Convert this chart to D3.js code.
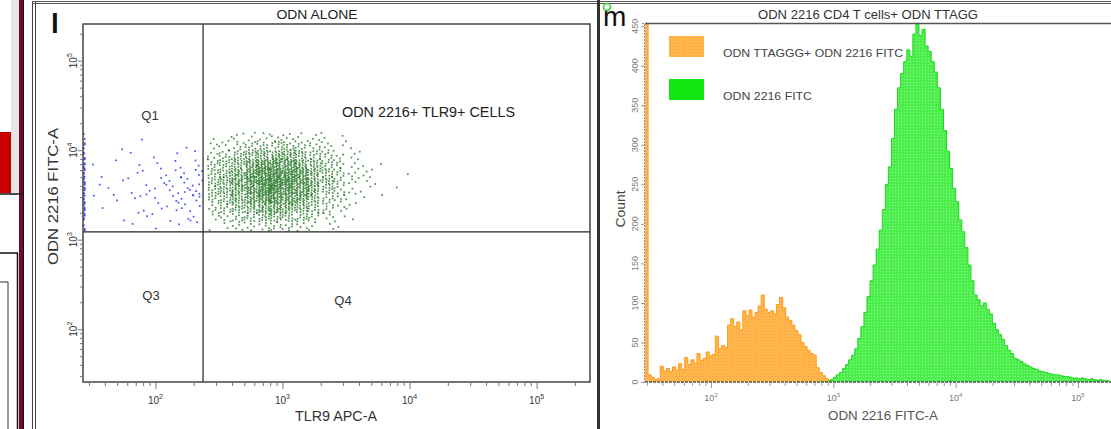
<!DOCTYPE html>
<html>
<head>
<meta charset="utf-8">
<script src="https://cdn.jsdelivr.net/npm/d3@7"></script>
<style>
html, body { margin: 0; padding: 0; background: #fff; }
svg { display: block; font-family: "Liberation Sans", Arial, sans-serif; }
</style>
</head>
<body>
<div id="fig"></div>
<script>
// ---- panel l : dot plot, counts per cell of 0.1 x 0.1 decade
var scatterGreenColStart = 2.4;   // log10 TLR9 APC-A, first column
var scatterBlueColStart = 1.47;
var scatterRowStart = 3.1;        // log10 ODN 2216 FITC-A, bottom row
// rows bottom -> top, columns left -> right
var scatterGreen = [
    [1, 2, 4, 5, 6, 7, 6, 5, 3, 2, 1, 0, 0, 0, 0, 0],
    [3, 5, 8, 11, 13, 14, 13, 10, 7, 4, 2, 1, 0, 0, 0, 0],
    [6, 9, 13, 18, 22, 23, 21, 16, 11, 7, 3, 2, 0, 0, 0, 0],
    [9, 12, 18, 25, 30, 32, 28, 22, 15, 9, 5, 2, 1, 1, 0, 0],
    [11, 15, 22, 30, 36, 38, 34, 27, 19, 12, 7, 3, 2, 0, 1, 0],
    [12, 16, 24, 32, 38, 42, 38, 30, 22, 14, 8, 4, 2, 1, 0, 0],
    [10, 14, 22, 30, 35, 38, 35, 28, 20, 13, 7, 4, 2, 1, 0, 1],
    [8, 12, 18, 24, 28, 30, 28, 22, 16, 10, 6, 3, 1, 1, 0, 0],
    [5, 8, 12, 15, 18, 20, 18, 15, 11, 7, 4, 2, 1, 0, 0, 0],
    [3, 4, 6, 8, 9, 10, 10, 8, 6, 4, 2, 1, 0, 0, 0, 0],
    [1, 2, 3, 3, 4, 4, 4, 3, 3, 2, 1, 0, 0, 0, 0, 0]
];
var scatterBlue = [
    [0, 0, 0, 1, 0, 1, 0, 1, 1],
    [0, 0, 1, 0, 1, 1, 1, 1, 2],
    [0, 1, 0, 1, 1, 1, 2, 2, 2],
    [1, 0, 1, 1, 1, 2, 2, 2, 3],
    [0, 1, 1, 1, 2, 1, 2, 3, 4],
    [1, 0, 1, 1, 1, 2, 2, 3, 3],
    [0, 1, 0, 1, 1, 1, 2, 2, 3],
    [1, 0, 1, 0, 1, 1, 1, 1, 2],
    [0, 0, 0, 1, 0, 1, 0, 1, 1],
    [0, 0, 1, 0, 0, 0, 0, 1, 0],
    [0, 0, 0, 0, 1, 0, 0, 0, 0]
];
// events piled on the left axis (off-scale low), per row
var scatterBlueAxis = [3, 4, 5, 5, 5, 5, 5, 4, 4, 3, 2];
var gateX = 237, gateY = 1220;
var decades = [100, 1000, 10000, 100000];

// ---- panel m : histograms, 0.025 decade bins
var binWidth = 0.025;
var histOrangeStart = 1.46;
var histOrange = [600, 9, 6, 3, 4, 20, 14, 17, 13, 19, 15, 23, 16, 31, 22, 28, 24, 36, 27, 30,
    38, 33, 35, 58, 42, 46, 44, 72, 80, 70, 76, 66, 90, 84, 91, 82, 88, 96, 110, 92,
    88, 90, 86, 98, 107, 94, 82, 78, 72, 65, 60, 50, 45, 40, 36, 34, 18, 12, 8, 4, 2, 0];
var histGreenStart = 2.9;
var histGreen = [0, 0, 1, 3, 6, 9, 12, 17, 22, 28, 34, 42, 55, 70, 88, 108, 128, 148, 168, 192,
    218, 250, 272, 308, 345, 372, 390, 405, 420, 412, 440, 455, 438, 446, 425, 418, 405, 392, 372, 345,
    318, 292, 270, 245, 228, 205, 190, 170, 148, 128, 110, 104, 96, 100, 92, 86, 74, 66, 60, 54,
    46, 40, 36, 30, 28, 26, 23, 21, 19, 17, 16, 14, 13, 12, 11, 10, 9, 9, 8, 7,
    7, 6, 5, 5, 4, 5, 4, 3, 4, 3, 2, 3, 2, 2, 1, 1];
var countTicks = [0, 50, 100, 150, 200, 250, 300, 350, 400, 450];
var legendLabels = ["ODN TTAGGG+ ODN 2216 FITC", "ODN 2216 FITC"];

var svg = d3.select("#fig").append("svg")
    .attr("width", 1111)
    .attr("height", 429);

var defs = svg.append("defs");
function dotPattern(id, base, dot) {
    var p = defs.append("pattern").attr("id", id)
        .attr("width", 3).attr("height", 3).attr("patternUnits", "userSpaceOnUse");
    p.append("rect").attr("width", 3).attr("height", 3).attr("fill", base);
    p.append("rect").attr("x", 1).attr("y", 1).attr("width", 1).attr("height", 1).attr("fill", dot);
}
dotPattern("patOrange", "#ffb845", "#ff9470");
dotPattern("patGreen", "#4cee4c", "#95f695");

// left neighbour strip of the figure
svg.append("rect").attr("x", 11).attr("y", 0).attr("width", 8).attr("height", 193).attr("fill", "#e6e6e6");
svg.append("rect").attr("x", 0).attr("y", 132).attr("width", 11).attr("height", 61).attr("fill", "#c80000");
svg.append("rect").attr("x", 19).attr("y", 0).attr("width", 4).attr("height", 429).attr("fill", "#6e0b2e");
svg.append("line").attr("x1", 0).attr("x2", 22).attr("y1", 194).attr("y2", 194).style("stroke", "#111").style("stroke-width", 1.5);
svg.append("line").attr("x1", 0).attr("x2", 18).attr("y1", 253).attr("y2", 253).style("stroke", "#111").style("stroke-width", 1.5);
svg.append("line").attr("x1", 17.5).attr("x2", 17.5).attr("y1", 253).attr("y2", 429).style("stroke", "#111").style("stroke-width", 1.5);
svg.append("line").attr("x1", 0).attr("x2", 8).attr("y1", 282).attr("y2", 282).style("stroke", "#333").style("stroke-width", 1);
svg.append("line").attr("x1", 8).attr("x2", 8).attr("y1", 282).attr("y2", 429).style("stroke", "#333").style("stroke-width", 1);
svg.append("line").attr("x1", 23.5).attr("x2", 23.5).attr("y1", 0).attr("y2", 429).style("stroke", "#111").style("stroke-width", 1);

// panel borders
[32.5, 35.5].forEach(function (x) {
    svg.append("line").attr("x1", x).attr("x2", x).attr("y1", 1).attr("y2", 429).style("stroke", "#444").style("stroke-width", 1);
});
[1.5, 3.5].forEach(function (y) {
    svg.append("line").attr("x1", 32).attr("x2", 1111).attr("y1", y).attr("y2", y).style("stroke", "#555").style("stroke-width", 1);
});
svg.append("line").attr("x1", 598.5).attr("x2", 598.5).attr("y1", 0).attr("y2", 429).style("stroke", "#333").style("stroke-width", 3);

function frac(v) { return v - Math.floor(v); }
function minorTicks(lo, hi) {
    var t = [];
    for (var d = -1; d <= 6; d++) {
        for (var k = 2; k <= 9; k++) {
            var v = k * Math.pow(10, d);
            if (v > lo && v < hi) t.push(v);
        }
    }
    return t;
}
function powLabel(sel, k, big, small, sup) {
    sel.append("tspan").attr("font-size", big).text("10");
    sel.append("tspan").attr("font-size", small).attr("dy", -sup).text(k);
}

// ================= panel l =================
var xL = d3.scaleLog().domain([Math.pow(10, 1.43), Math.pow(10, 5.42)]).range([83, 590]);
var yL = d3.scaleLog().domain([Math.pow(10, 1.41), Math.pow(10, 5.41)]).range([382, 24]);

svg.append("text").attr("x", 51).attr("y", 33).attr("font-size", 28).attr("font-weight", "bold")
    .attr("fill", "#111").text("l");
svg.append("text").attr("x", 317).attr("y", 19).attr("text-anchor", "middle").attr("font-size", 13)
    .attr("textLength", 81).attr("lengthAdjust", "spacingAndGlyphs").attr("fill", "#222").text("ODN ALONE");

var gL = svg.append("g");
// dots
function cellDots(counts, colStart, color, xMaxLog) {
    counts.forEach(function (row, ri) {
        row.forEach(function (n, ci) {
            var su = frac(ci * 0.4142 + ri * 0.7321), sv = frac(ci * 0.2361 + ri * 0.6180);
            for (var k = 1; k <= n; k++) {
                var lx = colStart + 0.1 * (ci + frac(0.5 + k * 0.7548776662 + su));
                var ly = scatterRowStart + 0.1 * (ri + frac(0.5 + k * 0.5698402910 + sv));
                if (xMaxLog && lx > xMaxLog) lx = xMaxLog - 0.005;
                gL.append("rect")
                    .attr("x", xL(Math.pow(10, lx)) - 0.8)
                    .attr("y", yL(Math.pow(10, ly)) - 0.8)
                    .attr("width", 1.7).attr("height", 1.7)
                    .attr("fill", color);
            }
        });
    });
}
cellDots(scatterGreen, scatterGreenColStart, "rgba(25,112,25,0.78)");
cellDots(scatterBlue, scatterBlueColStart, "rgba(40,50,255,0.85)", Math.log10(gateX));
scatterBlueAxis.forEach(function (n, ri) {
    var sv = frac(ri * 0.6180);
    for (var k = 1; k <= n; k++) {
        var ly = scatterRowStart + 0.1 * (ri + frac(0.5 + k * 0.5698402910 + sv));
        gL.append("rect")
            .attr("x", xL.range()[0] + (k % 2) * 0.8)
            .attr("y", yL(Math.pow(10, ly)) - 0.8)
            .attr("width", 1.7).attr("height", 1.7)
            .attr("fill", "rgba(40,50,255,0.9)");
    }
});

// gates
gL.append("line").attr("x1", xL(gateX)).attr("x2", xL(gateX)).attr("y1", 24).attr("y2", 382)
    .style("stroke", "#222").style("stroke-width", 1.2);
gL.append("line").attr("x1", 83).attr("x2", 590).attr("y1", yL(gateY)).attr("y2", yL(gateY))
    .style("stroke", "#222").style("stroke-width", 1.2);
gL.append("rect").attr("x", 83).attr("y", 24).attr("width", 507).attr("height", 358)
    .attr("fill", "none").style("stroke", "#444").style("stroke-width", 1.5);

// axes
var xAxisL = svg.append("g").attr("transform", "translate(0,382)");
xAxisL.append("g").call(d3.axisBottom(xL).tickValues(minorTicks(xL.domain()[0], xL.domain()[1])).tickSize(4).tickFormat(""));
xAxisL.append("g").call(d3.axisBottom(xL).tickValues(decades).tickSize(7).tickFormat(""));
xAxisL.selectAll(".domain").remove();
xAxisL.selectAll("line").style("stroke", "#777");
var yAxisL = svg.append("g").attr("transform", "translate(83,0)");
yAxisL.append("g").call(d3.axisLeft(yL).tickValues(minorTicks(yL.domain()[0], yL.domain()[1])).tickSize(3).tickFormat(""));
yAxisL.append("g").call(d3.axisLeft(yL).tickValues(decades).tickSize(5).tickFormat(""));
yAxisL.selectAll(".domain").remove();
yAxisL.selectAll("line").style("stroke", "#777");

decades.forEach(function (v) {
    var k = Math.round(Math.log10(v));
    var t = svg.append("text").attr("x", xL(v)).attr("y", 404).attr("text-anchor", "middle").attr("fill", "#333");
    powLabel(t, k, 10, 7, 5);
    var t2 = svg.append("text").attr("transform", "translate(77," + yL(v) + ") rotate(-90)")
        .attr("text-anchor", "middle").attr("fill", "#333");
    powLabel(t2, k, 10, 7, 5);
});

svg.append("text").attr("x", 295).attr("y", 421).attr("font-size", 14).attr("textLength", 82)
    .attr("lengthAdjust", "spacingAndGlyphs").attr("fill", "#333").text("TLR9 APC-A");
svg.append("text").attr("transform", "translate(57.5,196.5) rotate(-90)").attr("text-anchor", "middle")
    .attr("font-size", 15).attr("textLength", 137).attr("lengthAdjust", "spacingAndGlyphs")
    .attr("fill", "#333").text("ODN 2216 FITC-A");

svg.append("text").attr("x", 150).attr("y", 120).attr("text-anchor", "middle").attr("font-size", 13).attr("fill", "#333").text("Q1");
svg.append("text").attr("x", 151).attr("y", 300).attr("text-anchor", "middle").attr("font-size", 13).attr("fill", "#333").text("Q3");
svg.append("text").attr("x", 343).attr("y", 305).attr("text-anchor", "middle").attr("font-size", 13).attr("fill", "#333").text("Q4");
svg.append("text").attr("x", 342).attr("y", 117).attr("font-size", 14).attr("textLength", 173)
    .attr("lengthAdjust", "spacingAndGlyphs").attr("fill", "#222").text("ODN 2216+ TLR9+ CELLS");

// ================= panel m =================
var xM = d3.scaleLog().domain([Math.pow(10, 1.46), Math.pow(10, 5.27)]).range([645, 1111]);
var yM = d3.scaleLinear().domain([0, 454]).range([382, 23]);

svg.append("text").attr("x", 603).attr("y", 26).attr("font-size", 28).attr("fill", "#111").text("m");
svg.append("circle").attr("cx", 607).attr("cy", 7).attr("r", 3.5).attr("fill", "none")
    .style("stroke", "#33cc33").style("stroke-width", 1.5);
svg.append("text").attr("x", 868).attr("y", 19).attr("text-anchor", "middle").attr("font-size", 12)
    .attr("textLength", 220).attr("lengthAdjust", "spacingAndGlyphs").attr("fill", "#333")
    .text("ODN 2216 CD4 T cells+ ODN TTAGG");

defs.append("clipPath").attr("id", "clipM").append("rect")
    .attr("x", 645).attr("y", 23).attr("width", 466).attr("height", 359);

function histPoints(counts, start) {
    var pts = counts.map(function (c, i) { return { x: Math.pow(10, start + i * binWidth), c: c }; });
    pts.push({ x: Math.pow(10, start + counts.length * binWidth), c: counts[counts.length - 1] });
    return pts;
}
var area = d3.area().curve(d3.curveStepAfter)
    .x(function (d) { return xM(d.x); })
    .y0(yM(0))
    .y1(function (d) { return yM(d.c); });
var outline = d3.line().curve(d3.curveStepAfter)
    .x(function (d) { return xM(d.x); })
    .y(function (d) { return yM(d.c); });

var gM = svg.append("g").attr("clip-path", "url(#clipM)");
var series = [
    { pts: histPoints(histOrange, histOrangeStart), fill: "url(#patOrange)", stroke: "#ff9a1a" },
    { pts: histPoints(histGreen, histGreenStart), fill: "url(#patGreen)", stroke: "#1ad81a" }
];
series.forEach(function (s) {
    gM.append("path").datum(s.pts).attr("d", area).attr("fill", s.fill);
    gM.append("path").datum(s.pts).attr("d", outline).attr("fill", "none")
        .style("stroke", s.stroke).style("stroke-width", 1);
});

svg.append("line").attr("x1", 645).attr("x2", 1111).attr("y1", 23.5).attr("y2", 23.5)
    .style("stroke", "#555").style("stroke-width", 1.5);
svg.append("line").attr("x1", 645).attr("x2", 1111).attr("y1", 382).attr("y2", 382)
    .style("stroke", "#555").style("stroke-width", 1.5).style("stroke-dasharray", "3,1");

var xAxisM = svg.append("g").attr("transform", "translate(0,383)");
xAxisM.append("g").call(d3.axisBottom(xM).tickValues(minorTicks(xM.domain()[0], xM.domain()[1])).tickSize(3).tickFormat(""));
xAxisM.append("g").call(d3.axisBottom(xM).tickValues(decades).tickSize(5).tickFormat(""));
xAxisM.selectAll(".domain").remove();
xAxisM.selectAll("line").style("stroke", "#999");
var yAxisM = svg.append("g").attr("transform", "translate(644,0)");
yAxisM.call(d3.axisLeft(yM).tickValues(countTicks).tickSize(3).tickFormat(""));
yAxisM.selectAll(".domain").style("stroke", "#8a8ab0").style("stroke-dasharray", "2,1");
yAxisM.selectAll("line").style("stroke", "#999");

countTicks.forEach(function (c) {
    svg.append("text").attr("transform", "translate(637.5," + yM(c) + ") rotate(-90)")
        .attr("text-anchor", "middle").attr("font-size", 9).attr("fill", "#7a7a7a").text(c);
});
decades.forEach(function (v) {
    var t = svg.append("text").attr("x", xM(v)).attr("y", 401).attr("text-anchor", "middle").attr("fill", "#777");
    powLabel(t, Math.round(Math.log10(v)), 9, 6, 4);
});

svg.append("text").attr("transform", "translate(625,209) rotate(-90)").attr("text-anchor", "middle")
    .attr("font-size", 13).attr("textLength", 37).attr("lengthAdjust", "spacingAndGlyphs")
    .attr("fill", "#444").text("Count");
svg.append("text").attr("x", 828).attr("y", 420).attr("font-size", 12).attr("textLength", 110)
    .attr("lengthAdjust", "spacingAndGlyphs").attr("fill", "#555").text("ODN 2216 FITC-A");

// legend
var legendFills = ["url(#patOrange)", "#14e614"];
legendLabels.forEach(function (lab, i) {
    var y0 = 36 + i * 43;
    svg.append("rect").attr("x", 669).attr("y", y0).attr("width", 35).attr("height", 21).attr("fill", legendFills[i]);
    svg.append("text").attr("x", 723).attr("y", y0 + 21).attr("font-size", 11)
        .attr("textLength", i == 0 ? 180 : 89).attr("lengthAdjust", "spacingAndGlyphs")
        .attr("fill", "#444").text(lab);
});
</script>
</body>
</html>
